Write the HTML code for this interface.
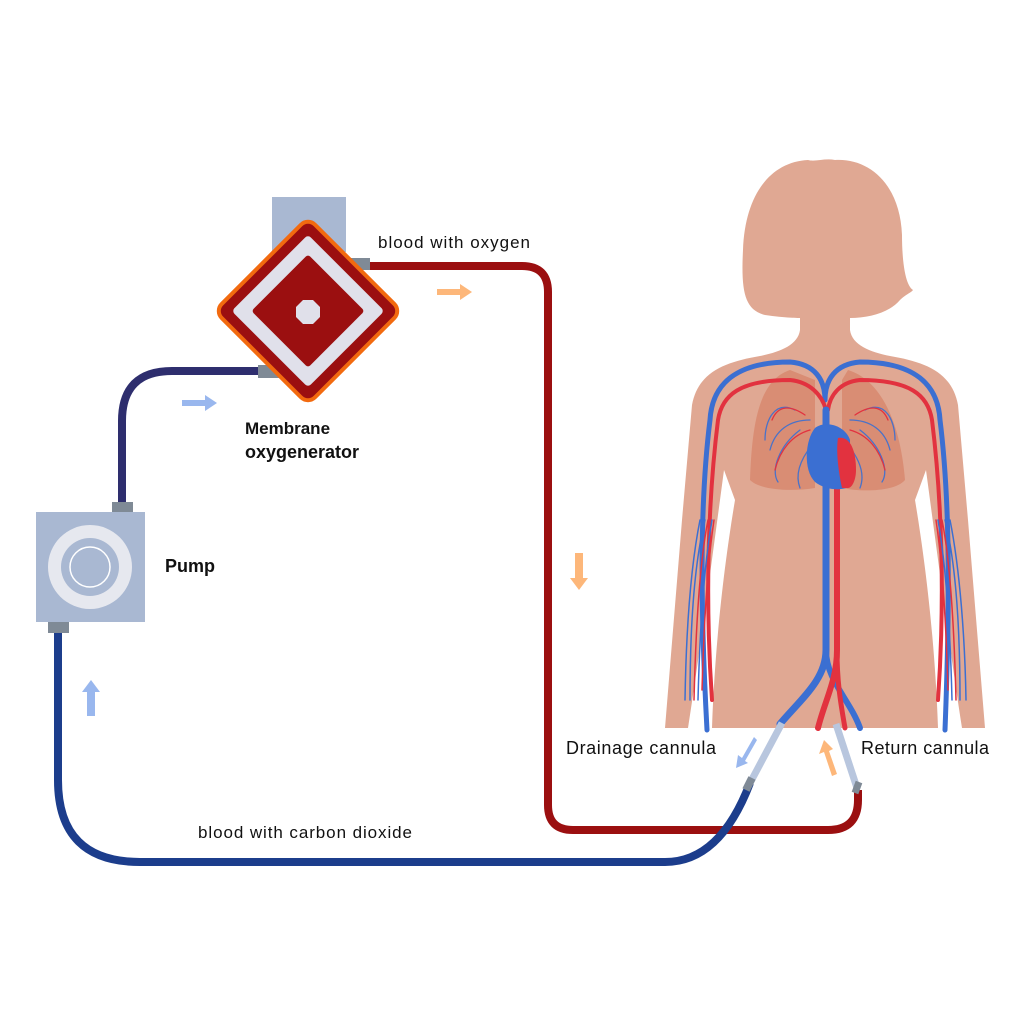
<!DOCTYPE html>
<html><head><meta charset="utf-8"><style>
html,body{margin:0;padding:0;background:#fff}
svg{display:block}
text{font-family:"Liberation Sans",sans-serif;fill:#111}
</style></head><body>
<svg width="1024" height="1024" viewBox="0 0 1024 1024" xmlns="http://www.w3.org/2000/svg">
<rect width="1024" height="1024" fill="#fff"/>
<!-- body -->
<g fill="#e0a893">
<path d="M808 160 C770 162 745 195 743 250 C741 290 744 310 765 315 C785 318 800 318 800 318 L800 330 C798 345 780 352 760 356 C725 362 698 372 692 405 L682 520 L665 728 L985 728 L968 520 L958 405 C952 372 925 362 890 356 C870 352 852 345 850 330 L850 318 C870 318 890 312 900 300 C905 295 912 292 913 290 C905 285 902 260 902 235 C900 185 870 158 835 160 C825 158 815 162 808 160 Z"/>
</g>
<path d="M724 470 C712 560 700 650 688 728 L712 728 C715 640 725 560 735 500 Z" fill="#fff"/>
<path d="M926 470 C938 560 950 650 962 728 L938 728 C935 640 925 560 915 500 Z" fill="#fff"/>
<!-- lungs -->
<path d="M790 370 C760 380 752 420 750 480 C760 490 790 492 815 488 L815 380 Z" fill="#d98d74"/>
<path d="M848 370 C880 380 900 420 905 480 C895 492 860 492 842 488 L842 380 Z" fill="#d98d74"/>
<!-- vessels -->
<g fill="none" stroke-linecap="round">
<path d="M707 730 C700 600 700 500 710 420 C712 385 735 362 790 362 C815 364 825 380 825 400" stroke="#3b6fd2" stroke-width="5"/>
<path d="M945 730 C950 600 950 500 940 420 C938 385 915 362 860 362 C835 364 825 380 825 400" stroke="#3b6fd2" stroke-width="5"/>
<path d="M712 700 C705 600 708 500 718 420 C722 395 740 380 790 380 C810 382 822 395 826 410" stroke="#e2323f" stroke-width="4"/>
<path d="M938 700 C945 600 942 500 932 420 C928 395 910 380 860 380 C840 382 830 395 828 410" stroke="#e2323f" stroke-width="4"/>
<path d="M690 700 C690 620 695 560 705 520 M698 700 C700 620 705 560 712 520 M685 700 C686 640 690 570 700 520" stroke="#3b6fd2" stroke-width="1.5"/>
<path d="M694 700 C696 620 700 560 708 520 M702 690 C704 620 708 560 714 520" stroke="#e2323f" stroke-width="1.5"/>
<path d="M960 700 C960 620 955 560 945 520 M952 700 C950 620 945 560 938 520 M966 700 C965 640 960 570 950 520" stroke="#3b6fd2" stroke-width="1.5"/>
<path d="M956 700 C954 620 950 560 942 520 M948 690 C946 620 942 560 936 520" stroke="#e2323f" stroke-width="1.5"/>
<path d="M826 410 L826 650 C826 680 800 700 780 724" stroke="#3b6fd2" stroke-width="7"/>
<path d="M826 650 C826 680 850 700 860 728" stroke="#3b6fd2" stroke-width="6"/>
<path d="M837 440 L837 650 C837 680 825 700 818 728" stroke="#e2323f" stroke-width="6"/>
<path d="M837 650 C837 680 840 700 845 728" stroke="#e2323f" stroke-width="5"/>
<g stroke="#4a72c8" stroke-width="1.3">
<path d="M810 420 C790 420 775 430 770 450 M800 430 C780 445 770 470 778 482 M795 410 C775 400 765 420 765 440 M812 445 C800 460 795 475 800 488"/>
<path d="M850 420 C870 420 885 430 890 450 M860 430 C880 445 890 470 882 482 M865 410 C885 400 895 420 895 440 M848 445 C860 460 865 475 860 488"/>
</g>
<g stroke="#e2323f" stroke-width="1.3">
<path d="M810 430 C792 435 780 450 775 470 M805 415 C790 405 778 405 772 420"/>
<path d="M850 430 C868 435 880 450 885 470 M855 415 C870 405 882 405 888 420"/>
</g>
</g>
<!-- heart -->
<path d="M815 428 C805 440 803 470 815 482 C828 492 845 490 850 486 L850 440 C845 425 825 420 815 428 Z" fill="#3b6fd2"/>
<path d="M838 438 C850 436 856 450 856 470 C856 480 852 488 848 488 L842 488 C838 470 836 450 838 438 Z" fill="#e2323f"/>
<!-- tubes -->
<g fill="none" stroke-linecap="butt">
<path d="M258 371 H172 Q122 371 122 421 V503" stroke="#2e2e6e" stroke-width="8"/>
<path d="M370 266 H522 Q548 266 548 292 V805 Q548 830 573 830 H828 Q858 830 858 800 V790" stroke="#9b0f10" stroke-width="8"/>
<path d="M58 632 V780 Q58 862 140 862 H665 Q720 862 750 783" stroke="#1c3d8c" stroke-width="8"/>
<path d="M750 783 L782 723" stroke="#b8c6de" stroke-width="7"/>
<path d="M857 788 L836 724" stroke="#b8c6de" stroke-width="7"/>
<path d="M746 790 L752 778" stroke="#7f8a96" stroke-width="8"/>
<path d="M855 793 L859 782" stroke="#7f8a96" stroke-width="7"/>
</g>
<!-- oxygenator -->
<rect x="272" y="197" width="74" height="55" fill="#a9b8d2"/>
<rect x="346" y="258" width="24" height="12" fill="#7f8a96"/>
<rect x="258" y="365" width="24" height="13" fill="#7f8a96"/>
<g transform="translate(308,311) rotate(45)">
<rect x="-66" y="-66" width="132" height="132" rx="10" fill="#9b0f10" stroke="#f26a0f" stroke-width="4"/>
<rect x="-54" y="-54" width="108" height="108" rx="4" fill="#e0e0ea"/>
<rect x="-40" y="-40" width="80" height="80" rx="3" fill="#9b0f10"/>
</g>
<polygon points="303,300 313,300 320,307 320,317 313,324 303,324 296,317 296,307" fill="#e0e0ea"/>
<!-- pump -->
<rect x="112" y="502" width="21" height="11" fill="#7f8a96"/>
<rect x="48" y="622" width="21" height="11" fill="#7f8a96"/>
<rect x="36" y="512" width="109" height="110" fill="#a9b8d2"/>
<circle cx="90" cy="567" r="42" fill="#e6e8ef"/>
<circle cx="90" cy="567" r="29" fill="#a9b8d2"/>
<circle cx="90" cy="567" r="20" fill="none" stroke="#fff" stroke-width="1.5"/>
<!-- arrows -->
<g fill="#fdb77a">
<path d="M437 289 H460 V284 L472 292 L460 300 V295 H437 Z"/>
<path d="M575 553 V578 H570 L579 590 L588 578 H583 V553 Z"/>
<path d="M832 776 L824 752 L819 754 L824 740 L833 749 L829 751 L837 774 Z"/>
</g>
<g fill="#99b7ee">
<path d="M182 400 H205 V395 L217 403 L205 411 V406 H182 Z"/>
<path d="M87 716 V692 H82 L91 680 L100 692 H95 V716 Z"/>
<path d="M754 737 L742 758 L738 755 L736 768 L748 763 L745 761 L757 740 Z"/>
</g>
<!-- labels -->
<text x="378" y="248" font-size="17" textLength="152">blood with oxygen</text>
<text x="245" y="434" font-size="17" font-weight="bold">Membrane</text>
<text x="245" y="458" font-size="18" font-weight="bold">oxygenerator</text>
<text x="165" y="572" font-size="18" font-weight="bold">Pump</text>
<text x="566" y="754" font-size="18" textLength="150">Drainage cannula</text>
<text x="861" y="754" font-size="18" textLength="128">Return cannula</text>
<text x="198" y="838" font-size="17" textLength="214">blood with carbon dioxide</text>
</svg>
</body></html>
